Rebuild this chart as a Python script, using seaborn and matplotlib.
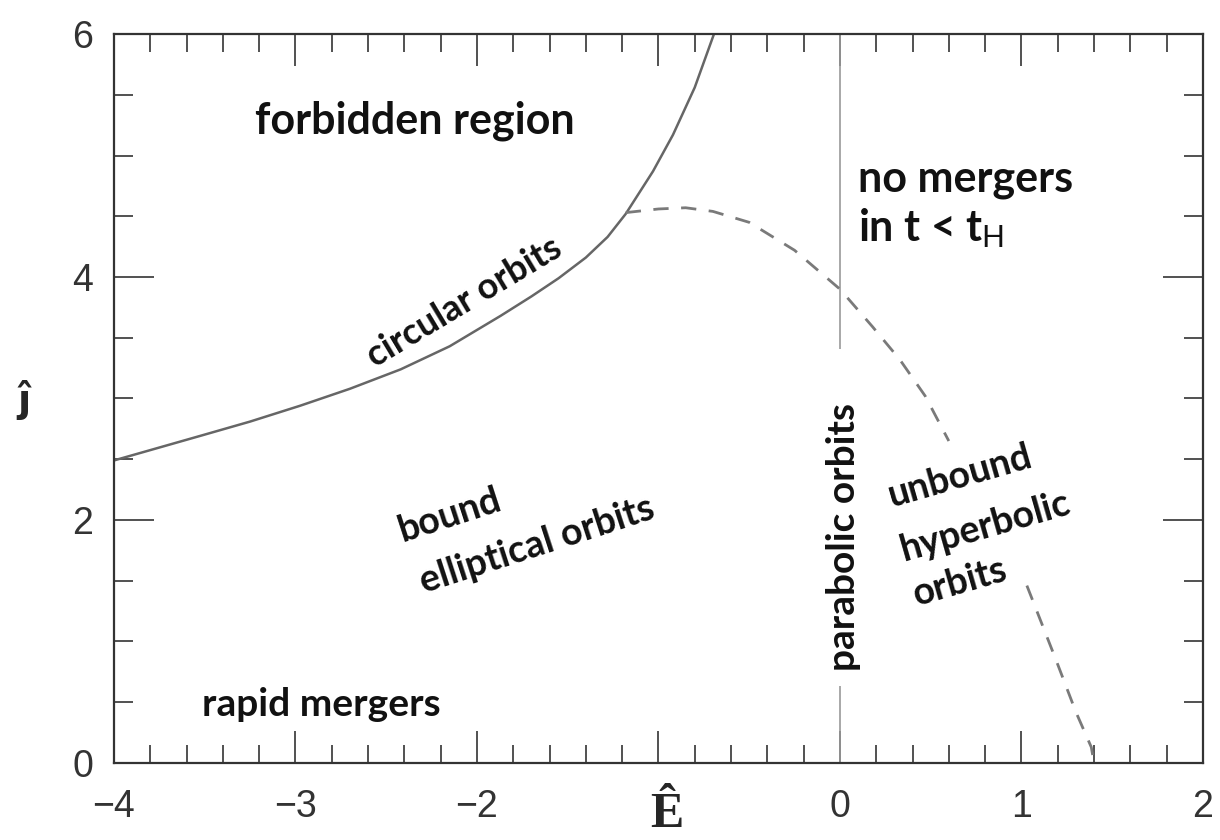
import matplotlib
matplotlib.use("Agg")
import matplotlib.pyplot as plt
import pandas as pd
import seaborn as sns
from matplotlib.ticker import MultipleLocator

# circular-orbit boundary
circ_E = [-4.0, -3.53, -3.25, -2.975, -2.70, -2.42, -2.15, -1.87, -1.70, -1.55,
          -1.40, -1.28, -1.18, -1.03, -0.92, -0.80, -0.694]
circ_J = [2.49, 2.69, 2.81, 2.94, 3.08, 3.24, 3.43, 3.68, 3.84, 3.99,
          4.16, 4.33, 4.52, 4.87, 5.17, 5.56, 6.0]

# merger-time boundary (dashed), broken where the labels sit
merge_E = [-1.18, -1.0, -0.85, -0.7, -0.5, -0.25, 0.0, 0.18, 0.33, 0.47, 0.6,
           1.03, 1.19, 1.30, 1.385, 1.40]
merge_J = [4.53, 4.56, 4.57, 4.54, 4.45, 4.22, 3.90, 3.59, 3.32, 3.02, 2.65,
           1.46, 0.85, 0.42, 0.13, 0.0]
merge_part = [1] * 11 + [2] * 5

# parabolic orbits, E = 0, broken around its label
parabolic_E = 0.0
parabolic_lo = [0.0, 3.41]
parabolic_hi = [0.63, 6.0]

x_ticks = [-4, -3, -2, -1, 0, 1, 2]
x_labels = ['−4', '−3', '−2', '', '0', '1', '2']
y_ticks = [0, 2, 4, 6]

merge = pd.DataFrame({'E': merge_E, 'J': merge_J, 'part': merge_part})

sns.set_style("ticks")
plt.rcParams['font.family'] = ['Liberation Sans', 'DejaVu Sans']
plt.rcParams['mathtext.fontset'] = 'custom'
plt.rcParams['mathtext.rm'] = 'Lato'

fig = plt.figure(figsize=(12.2, 8.4), dpi=100)
ax = fig.add_axes([0.0934, 0.0917, 0.986 - 0.0934, 0.9595 - 0.0917])

ax.vlines([parabolic_E] * 2, parabolic_lo, parabolic_hi, color='#9a9a9a', lw=1.2, zorder=1)
sns.lineplot(x=circ_E, y=circ_J, sort=False, estimator=None, color='#666666', lw=1.8, ax=ax, zorder=2)
sns.lineplot(data=merge, x='E', y='J', units='part', sort=False, estimator=None,
             color='#7a7a7a', lw=2.0, ax=ax, zorder=2, linestyle=(0, (5.5, 4.5)))

ax.set_xlim(-4, 2)
ax.set_ylim(0, 6)
ax.set_xticks(x_ticks)
ax.set_xticklabels(x_labels)
ax.set_yticks(y_ticks)
ax.xaxis.set_minor_locator(MultipleLocator(0.2))
ax.yaxis.set_minor_locator(MultipleLocator(0.5))
ax.tick_params(which='both', direction='in', top=True, right=True, color='#333333', width=1.2)
ax.tick_params(axis='x', which='major', length=23, pad=19, labelsize=27, labelcolor='#333333')
ax.tick_params(axis='x', which='minor', length=13)
ax.tick_params(axis='y', which='major', length=29, pad=15, labelsize=27, labelcolor='#333333')
ax.tick_params(axis='y', which='minor', length=14)
for sp in ax.spines.values():
    sp.set_linewidth(1.6)
    sp.set_color('#333333')

ax.set_xlabel('Ê', family='Liberation Serif', fontweight='bold', fontsize=36, va='center')
ax.xaxis.set_label_coords(0.508, -0.071)
ax.set_ylabel('ĵ', family='DejaVu Sans', fontweight='bold', fontsize=28, rotation=0, va='center')
ax.yaxis.set_label_coords(-0.0826, 0.498)

lab = dict(family='Lato', fontweight='bold', color='#111111', zorder=4)
rot = dict(ha='center', va='center', rotation_mode='anchor')

ax.text(-2.34, 5.29, 'forbidden region', ha='center', va='center', fontsize=31, **lab)
ax.text(0.10, 4.60, 'no mergers\nin t < t$_{\\mathrm{H}}$', ha='left', va='center',
        linespacing=1.2, fontsize=31, **lab)
ax.text(-2.07, 3.79, 'circular orbits', rotation=31, fontsize=26, **rot, **lab)
ax.text(-2.15, 2.04, 'bound', rotation=18, fontsize=27, **rot, **lab)
ax.text(-1.67, 1.79, 'elliptical orbits', rotation=18, fontsize=27, **rot, **lab)
ax.text(-2.86, 0.48, 'rapid mergers', ha='center', va='center', fontsize=28, **lab)
ax.text(0.02, 1.86, 'parabolic orbits', rotation=90, fontsize=28, **rot, **lab)
ax.text(0.66, 2.36, 'unbound', rotation=16, fontsize=27, **rot, **lab)
ax.text(0.80, 1.95, 'hyperbolic', rotation=16, fontsize=27, **rot, **lab)
ax.text(0.66, 1.49, 'orbits', rotation=16, fontsize=27, **rot, **lab)

fig.savefig('out.png', dpi=100)
